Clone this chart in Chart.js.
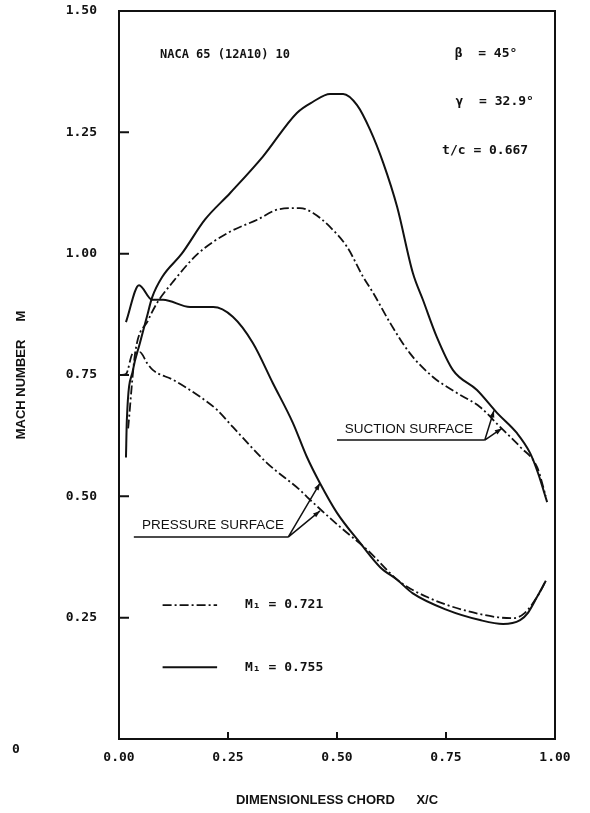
<!DOCTYPE html>
<html>
<head>
<meta charset="utf-8">
<script src="https://cdn.jsdelivr.net/npm/chart.js@4"></script>
<style>
  html, body { margin: 0; padding: 0; background: #fff; }
  canvas { display: block; }
</style>
</head>
<body>
<canvas id="chart" width="590" height="813"></canvas>
<script>
// ---- Data ----
// suction surface, M1 = 0.755 (solid)
const suction755X = [0.016, 0.018, 0.032, 0.048, 0.064, 0.076, 0.099, 0.144, 0.197, 0.255, 0.330, 0.408, 0.445, 0.484, 0.514, 0.546, 0.576, 0.606, 0.638, 0.674, 0.697, 0.729, 0.766, 0.821, 0.867, 0.913, 0.943, 0.961, 0.982];
const suction755M = [0.580, 0.657, 0.760, 0.816, 0.870, 0.910, 0.952, 1.000, 1.070, 1.125, 1.200, 1.290, 1.313, 1.329, 1.329, 1.306, 1.255, 1.187, 1.096, 0.960, 0.905, 0.828, 0.760, 0.719, 0.672, 0.630, 0.589, 0.548, 0.488];
// pressure surface, M1 = 0.755 (solid)
const pressure755X = [0.016, 0.046, 0.076, 0.101, 0.163, 0.216, 0.261, 0.307, 0.353, 0.399, 0.431, 0.461, 0.500, 0.553, 0.599, 0.638, 0.674, 0.752, 0.828, 0.881, 0.920, 0.938, 0.959, 0.979];
const pressure755M = [0.859, 0.935, 0.905, 0.905, 0.890, 0.890, 0.870, 0.816, 0.733, 0.651, 0.581, 0.527, 0.466, 0.404, 0.354, 0.328, 0.300, 0.266, 0.245, 0.237, 0.245, 0.260, 0.293, 0.326];
// suction surface, M1 = 0.721 (dash-dot)
const suction721X = [0.021, 0.037, 0.067, 0.087, 0.122, 0.181, 0.250, 0.317, 0.369, 0.415, 0.445, 0.484, 0.523, 0.560, 0.583, 0.622, 0.667, 0.720, 0.775, 0.828, 0.874, 0.920, 0.959, 0.979];
const suction721M = [0.640, 0.795, 0.863, 0.898, 0.940, 1.000, 1.043, 1.070, 1.092, 1.094, 1.084, 1.055, 1.014, 0.952, 0.919, 0.857, 0.795, 0.746, 0.713, 0.684, 0.643, 0.602, 0.560, 0.500];
// pressure surface, M1 = 0.721 (dash-dot)
const pressure721X = [0.005, 0.016, 0.032, 0.048, 0.064, 0.078, 0.124, 0.186, 0.225, 0.261, 0.339, 0.415, 0.431, 0.507, 0.569, 0.644, 0.713, 0.789, 0.867, 0.904, 0.931, 0.959, 0.979];
const pressure721M = [0.750, 0.752, 0.795, 0.797, 0.775, 0.760, 0.740, 0.705, 0.678, 0.643, 0.569, 0.513, 0.499, 0.437, 0.390, 0.324, 0.290, 0.266, 0.251, 0.249, 0.260, 0.293, 0.326];

const xTicks = [0, 0.25, 0.5, 0.75, 1.0];
const yTicks = [0, 0.25, 0.5, 0.75, 1.0, 1.25, 1.5];
const series = ['M1 = 0.721', 'M1 = 0.755'];

// ---- Styles ----
const INK = '#111';
const DASH_DOT = [9, 3, 2, 3];
const FONT = "'Liberation Sans', Arial, sans-serif";
const MONO = "'DejaVu Sans Mono', monospace";

const pts = (xs, ms) => xs.map((v, i) => ({ x: v, y: ms[i] }));
function lineSet(label, data, dashed) {
  return {
    label,
    data,
    borderColor: INK,
    borderWidth: dashed ? 1.8 : 2,
    borderDash: dashed ? DASH_DOT : [],
    pointRadius: 0,
    fill: false,
    cubicInterpolationMode: 'monotone',
  };
}

// ---- Annotations (positions in data units) ----
const notes = [
  { text: 'NACA 65 (12A10) 10', x: 0.094, m: 1.41, size: 12 },
  { text: 'β  = 45°', x: 0.770, m: 1.413, size: 13 },
  { text: 'γ  = 32.9°', x: 0.772, m: 1.313, size: 13 },
  { text: 't/c = 0.667', x: 0.741, m: 1.212, size: 13 },
];

const callouts = [
  { text: 'SUCTION SURFACE', tx: 0.518, tm: 0.630, lineFrom: 0.500, lineTo: 0.839, lm: 0.616,
    targets: [[0.860, 0.677], [0.878, 0.640]] },
  { text: 'PRESSURE SURFACE', tx: 0.053, tm: 0.432, lineFrom: 0.034, lineTo: 0.388, lm: 0.416,
    targets: [[0.461, 0.527], [0.461, 0.470]] },
];

const legendRows = [
  { label: 'M₁ = 0.721', dashed: true,  m: 0.276 },
  { label: 'M₁ = 0.755', dashed: false, m: 0.148 },
];

function arrowHead(ctx, x0, y0, x1, y1) {
  const ang = Math.atan2(y1 - y0, x1 - x0);
  const len = 7, wid = 2.5;
  ctx.beginPath();
  ctx.moveTo(x1, y1);
  ctx.lineTo(x1 - len * Math.cos(ang) + wid * Math.sin(ang), y1 - len * Math.sin(ang) - wid * Math.cos(ang));
  ctx.lineTo(x1 - len * Math.cos(ang) - wid * Math.sin(ang), y1 - len * Math.sin(ang) + wid * Math.cos(ang));
  ctx.closePath();
  ctx.fill();
}

// ---- Frame, inward ticks, labels ----
const decor = {
  id: 'decor',
  afterDatasetsDraw(chart) {
    const { ctx, chartArea: a, scales: { x, y } } = chart;
    const px = v => x.getPixelForValue(v);
    const py = v => y.getPixelForValue(v);
    ctx.save();
    ctx.strokeStyle = INK;
    ctx.fillStyle = INK;
    ctx.lineWidth = 2;
    ctx.setLineDash([]);
    ctx.strokeRect(a.left, a.top, a.right - a.left, a.bottom - a.top);

    // inward tick marks
    ctx.beginPath();
    yTicks.slice(1, -1).forEach(v => { ctx.moveTo(a.left, py(v)); ctx.lineTo(a.left + 10, py(v)); });
    xTicks.slice(1, -1).forEach(v => { ctx.moveTo(px(v), a.bottom); ctx.lineTo(px(v), a.bottom - 7); });
    ctx.stroke();

    // lone "0" at lower left
    ctx.font = `bold 13px ${MONO}`;
    ctx.textAlign = 'left';
    ctx.textBaseline = 'middle';
    ctx.fillText('0', 12, a.bottom + 11);

    // annotation text
    ctx.textBaseline = 'middle';
    notes.forEach(n => {
      ctx.font = `bold ${n.size}px ${MONO}`;
      ctx.fillText(n.text, px(n.x), py(n.m));
    });

    // callouts with leader arrows
    ctx.lineWidth = 1.5;
    callouts.forEach(c => {
      ctx.font = `13.5px ${FONT}`;
      ctx.textBaseline = 'alphabetic';
      ctx.fillText(c.text, px(c.tx), py(c.tm));
      const ex = px(c.lineTo), ey = py(c.lm);
      ctx.beginPath();
      ctx.moveTo(px(c.lineFrom), ey);
      ctx.lineTo(ex, ey);
      c.targets.forEach(t => { ctx.moveTo(ex, ey); ctx.lineTo(px(t[0]), py(t[1])); });
      ctx.stroke();
      c.targets.forEach(t => arrowHead(ctx, ex, ey, px(t[0]), py(t[1])));
    });

    // legend
    legendRows.forEach(r => {
      const yy = py(r.m);
      ctx.lineWidth = r.dashed ? 1.8 : 2;
      ctx.setLineDash(r.dashed ? DASH_DOT : []);
      ctx.beginPath();
      ctx.moveTo(px(0.10), yy);
      ctx.lineTo(px(0.225), yy);
      ctx.stroke();
      ctx.setLineDash([]);
      ctx.font = `bold 13px ${MONO}`;
      ctx.textBaseline = 'middle';
      ctx.fillText(r.label, px(0.289), yy);
    });
    ctx.restore();
  }
};

new Chart(document.getElementById('chart'), {
  type: 'line',
  data: {
    datasets: [
      lineSet(series[1] + ' suction', pts(suction755X, suction755M), false),
      lineSet(series[1] + ' pressure', pts(pressure755X, pressure755M), false),
      lineSet(series[0] + ' suction', pts(suction721X, suction721M), true),
      lineSet(series[0] + ' pressure', pts(pressure721X, pressure721M), true),
    ]
  },
  options: {
    responsive: false,
    animation: false,
    layout: { padding: { top: 11, right: 35, left: 0, bottom: 0 } },
    plugins: { legend: { display: false }, tooltip: { enabled: false } },
    scales: {
      x: {
        type: 'linear',
        min: 0, max: 1,
        afterFit: s => { s.height = 74; s.paddingLeft = 0; s.paddingRight = 0; },
        afterBuildTicks: s => { s.ticks = xTicks.map(v => ({ value: v })); },
        grid: { display: false, drawTicks: false },
        border: { display: false },
        ticks: {
          color: INK, padding: 11, maxRotation: 0,
          font: { family: MONO, size: 13, weight: 'bold' },
          callback: v => v.toFixed(2),
        },
        title: {
          display: true, text: 'DIMENSIONLESS CHORD      X/C', color: INK,
          font: { family: FONT, size: 13, weight: 'bold' }, padding: { top: 0, bottom: 5 },
        },
      },
      y: {
        type: 'linear',
        min: 0, max: 1.5,
        afterFit: s => { s.width = 119; s.paddingTop = 0; s.paddingBottom = 0; },
        afterBuildTicks: s => { s.ticks = yTicks.map(v => ({ value: v })); },
        grid: { display: false, drawTicks: false },
        border: { display: false },
        ticks: {
          color: INK, padding: 22,
          font: { family: MONO, size: 13, weight: 'bold' },
          callback: v => (v === 0 ? '' : v.toFixed(2)),
        },
        title: {
          display: true, text: 'MACH NUMBER     M', color: INK,
          font: { family: FONT, size: 13, weight: 'bold' }, padding: { top: 14, bottom: 0 },
        },
      },
    },
  },
  plugins: [decor],
});
</script>
</body>
</html>
